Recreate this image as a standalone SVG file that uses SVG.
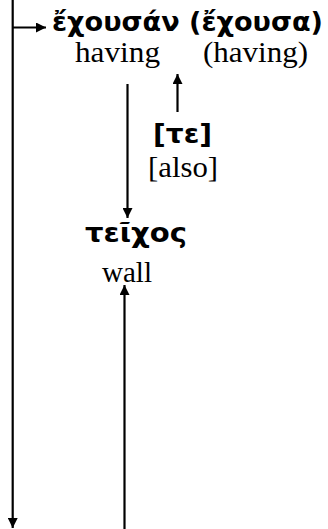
<svg xmlns="http://www.w3.org/2000/svg" width="328" height="529" viewBox="0 0 328 529">
<style>
.gk{font-family:"DejaVu Sans","Noto Sans",sans-serif;font-weight:bold;font-size:27px;fill:#000}
.en{font-family:"Liberation Serif","Times New Roman",serif;font-size:30px;fill:#000}
.ln{stroke:#000;stroke-width:2.2;fill:none}
</style>
<defs>
<marker id="ah" viewBox="0 0 10 10" refX="10" refY="5" markerWidth="10" markerHeight="10" markerUnits="userSpaceOnUse" orient="auto">
<path d="M0,0 L10,5 L0,10 z" fill="#000"/>
</marker>
</defs>
<rect width="328" height="529" fill="#fff"/>
<g id="connectors">
<line class="ln" x1="12.7" y1="0" x2="12.7" y2="528" marker-end="url(#ah)"/>
<line class="ln" x1="12.7" y1="27.5" x2="46" y2="27.5" marker-end="url(#ah)"/>
<line class="ln" x1="127.5" y1="84" x2="127.5" y2="218" marker-end="url(#ah)"/>
<line class="ln" x1="177.5" y1="112" x2="177.5" y2="74" marker-end="url(#ah)"/>
<line class="ln" x1="124.5" y1="529" x2="124.5" y2="285" marker-end="url(#ah)"/>
</g>
<g id="n_echousan">
<text class="gk" x="52" y="31" textLength="271" lengthAdjust="spacingAndGlyphs">ἔχουσάν (ἔχουσα)</text>
<text class="en" x="75" y="62" textLength="85" lengthAdjust="spacingAndGlyphs">having</text>
<text class="en" x="203" y="62" textLength="105" lengthAdjust="spacingAndGlyphs">(having)</text>
</g>
<g id="n_te">
<text class="gk" x="153" y="143" textLength="59" lengthAdjust="spacingAndGlyphs">[τε]</text>
<text class="en" x="148" y="177" textLength="70" lengthAdjust="spacingAndGlyphs">[also]</text>
</g>
<g id="n_teichos">
<text class="gk" x="85" y="242" textLength="102" lengthAdjust="spacingAndGlyphs">τεῖχος</text>
<text class="en" x="102" y="282" textLength="50" lengthAdjust="spacingAndGlyphs">wall</text>
</g>
</svg>
